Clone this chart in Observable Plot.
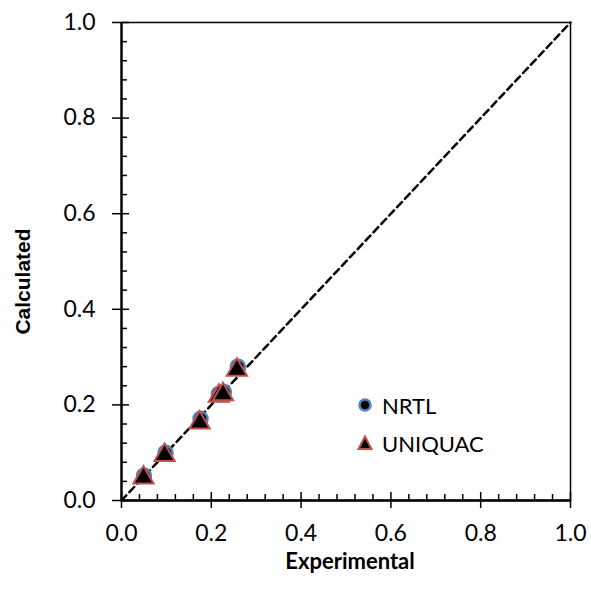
<!DOCTYPE html>
<html>
<head>
<meta charset="utf-8">
<script src="https://cdn.jsdelivr.net/npm/d3@7"></script>
<script src="https://cdn.jsdelivr.net/npm/@observablehq/plot@0.6"></script>
<style>
  body { margin: 0; background: #fff; }
  #wrap { position: relative; width: 591px; height: 590px; }
  #legend { position: absolute; left: 356px; top: 386px; font-family: Lato, "Open Sans", sans-serif; font-size: 22px; color: #000; }
  #legend div { display: flex; align-items: center; height: 38px; }
  #legend svg { margin-right: 8px; }
</style>
</head>
<body>
<div id="wrap"></div>
<script>
// Data
const nrtlExp  = [0.050, 0.098, 0.176, 0.217, 0.228, 0.259];
const nrtlCalc = [0.052, 0.100, 0.171, 0.223, 0.227, 0.280];
const uniqExp  = [0.049, 0.096, 0.174, 0.217, 0.226, 0.257];
const uniqCalc = [0.048, 0.095, 0.163, 0.219, 0.222, 0.273];
const diagonal = [0, 1];
const majorTicks = [0, 0.2, 0.4, 0.6, 0.8, 1.0];
const minorTicks = d3.range(0, 1.0001, 0.04).map(v => +v.toFixed(2)).filter(v => Math.abs(v * 5 - Math.round(v * 5)) > 1e-6);
const seriesNames = ["NRTL", "UNIQUAC"];

const nrtl = nrtlExp.map((x, i) => ({x, y: nrtlCalc[i]}));
const uniq = uniqExp.map((x, i) => ({x, y: uniqCalc[i]}));
const diag = diagonal.map(v => ({x: v, y: v}));

const font = "Lato, 'Open Sans', sans-serif";
const fmt = d3.format(".1f");

const chart = Plot.plot({
  width: 591,
  height: 590,
  marginLeft: 121,
  marginRight: 21,
  marginTop: 22,
  marginBottom: 90,
  style: {fontFamily: font, fontSize: "23px", color: "#000", background: "#fff"},
  x: {domain: [0, 1]},
  y: {domain: [0, 1]},
  marks: [
    // minor ticks (inside)
    Plot.axisX({ticks: minorTicks, tickSize: -6, text: null, label: null, strokeWidth: 1.5}),
    Plot.axisY({ticks: minorTicks, tickSize: -6, text: null, label: null, strokeWidth: 1.5}),
    // major ticks inside
    Plot.axisX({ticks: majorTicks, tickSize: -8, text: null, label: null, strokeWidth: 1.5}),
    Plot.axisY({ticks: majorTicks, tickSize: -8, text: null, label: null, strokeWidth: 1.5}),
    // major ticks outside with labels
    Plot.axisX({ticks: majorTicks, tickSize: 8, tickPadding: 16, tickFormat: fmt, label: null, strokeWidth: 1.5}),
    Plot.axisY({ticks: majorTicks, tickSize: 9, tickPadding: 17, tickFormat: fmt, label: null, strokeWidth: 1.5}),
    Plot.frame({stroke: "#000", strokeWidth: 1.5}),
    Plot.ruleX([0], {stroke: "#000", strokeWidth: 2.3}),
    Plot.ruleY([0], {stroke: "#000", strokeWidth: 2.3}),
    Plot.line(diag, {x: "x", y: "y", stroke: "#000", strokeWidth: 2.5, strokeDasharray: "7,4.5"}),
    Plot.dot(nrtl, {x: "x", y: "y", r: 7, fill: "#000", stroke: "#4f81bd", strokeWidth: 2.5}),
    Plot.dot(uniq, {x: "x", y: "y", symbol: "triangle", r: 7.5, fill: "#000", stroke: "#c0504d", strokeWidth: 2}),
    Plot.text(["Experimental"], {frameAnchor: "bottom", dx: 4, dy: 61, lineAnchor: "middle", fontWeight: "bold", fontSize: 22}),
    Plot.text(["Calculated"], {frameAnchor: "left", textAnchor: "middle", rotate: -90, dx: -98, dy: 20, lineAnchor: "middle", fontWeight: "bold", fontSize: 21, fontFamily: "'Liberation Sans', Arial, sans-serif"})
  ]
});

const wrap = document.getElementById("wrap");
wrap.appendChild(chart);

const legend = document.createElement("div");
legend.id = "legend";
const icons = [
  `<svg width="18" height="18"><circle cx="9" cy="9" r="5.5" fill="#000" stroke="#4f81bd" stroke-width="2.5"/></svg>`,
  `<svg width="18" height="18"><path d="M9,2.5 L15.5,15 L2.5,15 Z" fill="#000" stroke="#c0504d" stroke-width="2"/></svg>`
];
seriesNames.forEach((name, i) => {
  const row = document.createElement("div");
  row.innerHTML = icons[i] + `<span>${name}</span>`;
  legend.appendChild(row);
});
wrap.appendChild(legend);
</script>
</body>
</html>
